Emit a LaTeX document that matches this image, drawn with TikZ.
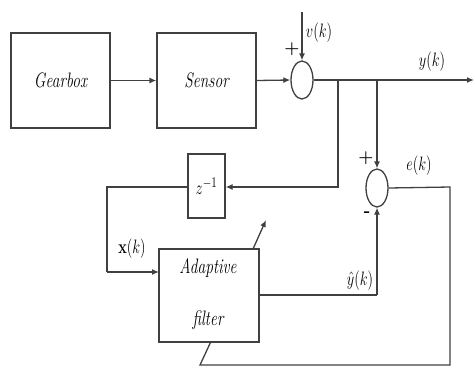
\documentclass[tikz,border=0pt]{standalone}
\usetikzlibrary{shapes.geometric,arrows.meta}
\newcommand\stt[1]{\scalebox{1}[1.35]{#1}}
\begin{document}
\begin{tikzpicture}[x=1pt,y=-1pt,
  ln/.style={line width=1.3pt,draw=black!75},
  arr/.style={ln,-{Latex[length=7pt,width=6pt]}},
  blk/.style={ln,rectangle,inner sep=0pt,font=\fontsize{15.5}{17}\selectfont\itshape},
  sumn/.style={ln,ellipse,minimum width=22pt,minimum height=38pt,inner sep=0pt},
  lbl/.style={inner sep=0pt,font=\fontsize{15.5}{17}\selectfont}]
\useasboundingbox (0,0) rectangle (475,368);
\node[blk,minimum width=99pt,minimum height=95pt] (gear) at (60.5,80.5) {\stt{Gearbox}};
\node[blk,minimum width=99pt,minimum height=95pt] (sens) at (206.5,80.5) {\stt{Sensor}};
\node[sumn] (s1) at (302,80) {};
\node[sumn] (s2) at (377,188) {};
\node[blk,minimum width=37pt,minimum height=64pt] (zb) at (206.5,186) {\stt{$z^{-1}$}};
\node[blk,minimum width=100pt,minimum height=93pt] (flt) at (209,295.5) {};
\node[lbl,font=\fontsize{15.5}{17}\selectfont\itshape] (fa) at (208,268) {\stt{Adaptive}};
\node[lbl,font=\fontsize{15.5}{17}\selectfont\itshape] (fb) at (208,320) {\stt{filter}};
\coordinate (vt) at (302,12);
\coordinate (yo) at (474,80);
\coordinate (b1) at (338,80);
\coordinate (b2) at (377,80);
\coordinate (b1d) at (338,187);
\coordinate (zl) at (107,187);
\coordinate (xl) at (107,272);
\coordinate (xi) at (159,272);
\coordinate (fo) at (259,295);
\coordinate (fc) at (377,295);
\coordinate (er) at (450,187);
\coordinate (ed) at (450,365);
\coordinate (eb) at (200,365);
\coordinate (ef) at (210.7,342);
\coordinate (aa) at (253,249);
\coordinate (ab) at (266,220);
% connectors
\draw[arr] (gear.east) -- (sens.west);
\draw[arr] (sens.east) -- (s1.west);
\draw[arr] (vt) -- (s1.north);
\draw[arr] (s1.east) -- (yo);
\draw[arr] (b1) -- (b1d) -- (zb.east |- b1d);
\draw[arr] (b2) -- (s2.north);
\draw[ln] (zb.west |- zl) -- (zl) -- (xl);
\draw[arr] (xl) -- (xi);
\draw[ln] (fo) -- (fc);
\draw[arr] (fc) -- (s2.south);
\draw[ln] (s2.east) -- (er) -- (ed) -- (eb) -- (ef);
\draw[arr] (aa) -- (ab);
% labels
\node[lbl] (lv) at (319,33) {\stt{$v(k)$}};
\node[lbl] (ly) at (432,62) {\stt{$y(k)$}};
\node[lbl] (le) at (419,166) {\stt{$e(k)$}};
\node[lbl] (lx) at (132,249) {\stt{$\mathbf{x}(k)$}};
\node[lbl] (lyh) at (360,281) {\stt{$\hat{y}(k)$}};
\node[lbl,font=\bfseries\LARGE] (p1) at (292,49) {+};
\node[lbl,font=\bfseries\LARGE] (p2) at (366,158) {+};
\node[lbl,font=\bfseries\LARGE] (m2) at (367,214) {-};
\end{tikzpicture}
\end{document}
